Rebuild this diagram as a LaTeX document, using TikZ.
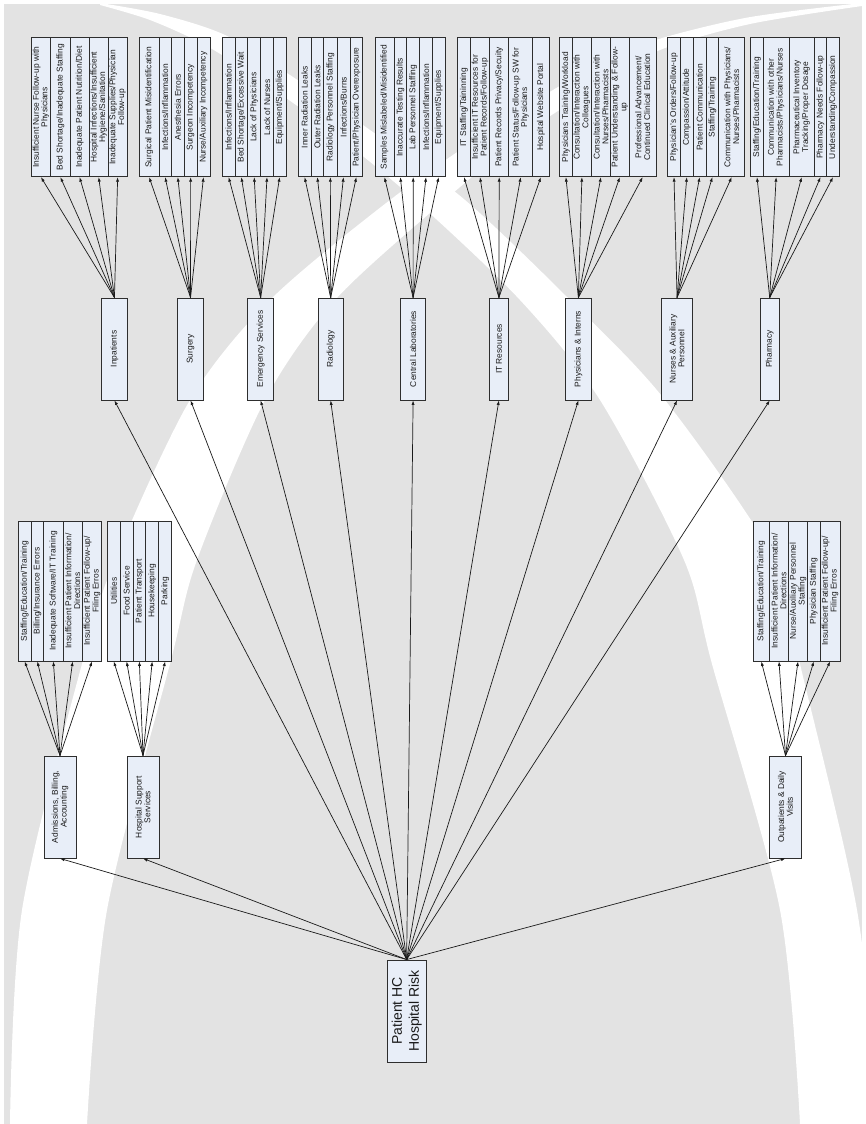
\documentclass[tikz,border=0pt]{standalone}
\usepackage{fontspec}
\setmainfont{Liberation Sans}
\usetikzlibrary{arrows.meta}
\definecolor{bggray}{HTML}{E3E3E3}
\definecolor{boxfill}{HTML}{E8EEF8}
\definecolor{boxline}{HTML}{2E2E2E}
\definecolor{linecol}{HTML}{1A1A1A}
\tikzset{
  bx/.style={draw=boxline, fill=boxfill, line width=0.9pt, rotate=90, inner sep=0pt,
    align=center, font=\fontsize{8.4}{8.7}\selectfont, text=black!90},
  rootbx/.style={bx, font=\fontsize{14}{17}\selectfont},
  arr/.style={draw=linecol, line width=0.7pt, -{Latex[length=4.5pt,width=3.2pt]}},
}
\newcommand\mkbox[7]{%
  \pgfmathsetmacro\mbw{#6-#5}%
  \pgfmathsetmacro\mbh{#4-#3}%
  \pgfmathsetmacro\mbx{(#3+#4)/2}%
  \pgfmathsetmacro\mby{(#5+#6)/2}%
  \node[#1, minimum width=\mbw pt, minimum height=\mbh pt] (#2) at (\mbx,\mby) {#7};}
\newcommand\topbox[4]{\mkbox{bx}{#1}{#2}{#3}{37.7}{176.7}{#4}}
\newcommand\midbox[4]{\mkbox{bx}{#1}{#2}{#3}{298}{400}{#4}}
\newcommand\lowbox[4]{\mkbox{bx}{#1}{#2}{#3}{521}{661}{#4}}
\newcommand\lpbox[4]{\mkbox{bx}{#1}{#2}{#3}{756}{858}{#4}}
\begin{document}
\begin{tikzpicture}[x=1pt,y=-1pt]
\useasboundingbox (0,0) rectangle (865,1124);
% background
\fill[bggray] (4,4) rectangle (862,1124);
\fill[white] plot[smooth] coordinates {(10,1124) (22,910) (83,660) (115,560) (190,400) (270,300) (390,200) (490,130) (570,80) (640,45) (745,18) (862,3)}
  -- plot[smooth] coordinates {(862,6) (750,24) (660,50) (600,85) (530,130) (445,200) (335,300) (265,400) (197,560) (171,660) (107,910) (87,1124)} -- cycle;
\fill[white] plot[smooth] coordinates {(100,3) (160,14) (225,35) (290,75) (370,130) (465,200) (570,300) (665,400) (775,560) (800,664) (857,910) (880,1124)}
  -- plot[smooth] coordinates {(800,1124) (780,910) (712,664) (684,560) (600,400) (520,300) (415,200) (330,130) (260,80) (205,45) (150,20) (100,5)} -- cycle;
\fill[white] (862,0) rectangle (865,1124);

% top row children
\topbox{a1}{31.2}{50.7}{Insufficient Nurse Follow-up with\\Physicians}
\topbox{a2}{50.7}{70}{Bed Shortage/Inadequate Staffing}
\topbox{a3}{70}{89.2}{Inadequate Patient Nutrition/Diet}
\topbox{a4}{89.2}{108.2}{Hospital Infections/Insufficient\\Hygiene/Sanitation}
\topbox{a5}{108.2}{127.1}{Inadequate Supplies/Physician\\Follow-up}

\topbox{b1}{139.3}{159}{Surgical Patient Misidentification}
\topbox{b2}{159}{171.3}{Infections/Inflammation}
\topbox{b3}{171.3}{184.3}{Anesthesia Errors}
\topbox{b4}{184.3}{197}{Surgeon Incompetency}
\topbox{b5}{197}{210}{Nurse/Auxiliary Incompetency}

\topbox{c1}{222.3}{235}{Infections/Inflammation}
\topbox{c2}{235}{247.7}{Bed Shortage/Excessive Wait}
\topbox{c3}{247.7}{260.7}{Lack of Physicians}
\topbox{c4}{260.7}{273.3}{Lack of Nurses}
\topbox{c5}{273.3}{286}{Equipment/Supplies}

\topbox{d1}{298.3}{311}{Inner Radiation Leaks}
\topbox{d2}{311}{323.7}{Outer Radiation Leaks}
\topbox{d3}{323.7}{337}{Radiology Personnel Staffing}
\topbox{d4}{337}{350}{Infections/Burns}
\topbox{d5}{350}{362.7}{Patient/Physician Overexposure}

\topbox{e1}{375}{394}{Samples Mislabeled/Misidentified}
\topbox{e2}{394}{406.7}{Inaccurate Testing Results}
\topbox{e3}{406.7}{419.7}{Lab Personnel Staffing}
\topbox{e4}{419.7}{432.3}{Infections/Inflammation}
\topbox{e5}{432.3}{445}{Equipment/Supplies}

\topbox{f1}{457.7}{470.3}{IT Staffing/Taininning}
\topbox{f2}{470.3}{489.7}{Insufficient IT Resources for\\Patient Records/Follow-up}
\topbox{f3}{489.7}{508.7}{Patient Records Privacy/Secuity}
\topbox{f4}{508.7}{532.7}{Patient Status/Follow-up SW for\\Physicians}
\topbox{f5}{532.7}{549}{Hospital Website Portal}

\topbox{g1}{559.5}{572.3}{Physicians Training/Workload}
\topbox{g2}{572.3}{591.5}{Consultation/Interaction with\\Colleagues}
\topbox{g3}{591.5}{610.3}{Consultation/Interaction with\\Nurses/Pharmacists}
\topbox{g4}{610.3}{629.3}{Patient Understanding \& Follow-\\up}
\topbox{g5}{629.3}{656}{Professional Advancement/\\Continued Clinical Education}

\topbox{h1}{667.7}{680.3}{Physician's Orders/Follow-up}
\topbox{h2}{680.3}{693.3}{Compassion/Attitude}
\topbox{h3}{693.3}{706}{Patient Communication}
\topbox{h4}{706}{718.7}{Staffing/Training}
\topbox{h5}{718.7}{744.7}{Communication with Physicians/\\Nurses/Pharmacists}

\topbox{k1}{750.7}{763.3}{Staffing/Education/Training}
\topbox{k2}{763.3}{789}{Communication with other\\Pharmacists/Physicians/Nurses}
\topbox{k3}{789}{814.3}{Pharmaceutical Inventory\\Tracking/Proper Dosage}
\topbox{k4}{814.3}{826.7}{Pharmacy Needs Follow-up}
\topbox{k5}{826.7}{839.3}{Understanding/Compassion}

% middle row
\midbox{inp}{101.5}{127.4}{Inpatients}
\midbox{surg}{177.6}{203.5}{Surgery}
\midbox{emer}{247.7}{273.6}{Emergency Services}
\midbox{radi}{318.3}{343}{Radiology}
\midbox{clab}{400.4}{425.8}{Central Laboratories}
\midbox{itres}{489.2}{508.6}{IT Resources}
\midbox{phys}{565.4}{591.3}{Physicians \& Interns}
\midbox{nurs}{661.3}{692.8}{Nurses \& Auxiliary\\Personnel}
\midbox{phar}{760}{779.4}{Pharmacy}

% lower children
\lowbox{m1}{18.3}{31}{Staffing/Education/Training}
\lowbox{m2}{31}{43.7}{Billing/Insurance Errors}
\lowbox{m3}{43.7}{63}{Inadequate Software/IT Training}
\lowbox{m4}{63}{82.3}{Insufficient Patient Information/\\Directions}
\lowbox{m5}{82.3}{101.7}{Insufficient Patient Follow-up/\\Filing Erros}

\lowbox{s1}{107.3}{120.3}{Utilities}
\lowbox{s2}{120.3}{133}{Food Service}
\lowbox{s3}{133}{145.7}{Patient Transport}
\lowbox{s4}{145.7}{158.7}{Housekeeping}
\lowbox{s5}{158.7}{171.7}{Parking}

\lowbox{o1}{753.3}{769.3}{Staffing/Education/Training}
\lowbox{o2}{769.3}{788.7}{Insufficient Patient Information/\\Directions}
\lowbox{o3}{788.7}{807.3}{Nurse/Auxiliary Personnel\\Staffing}
\lowbox{o4}{807.3}{820.3}{Physician Staffing}
\lowbox{o5}{820.3}{840}{Insufficient Patient Follow-up/\\Filing Erros}

% lower parents
\lpbox{adm}{44}{76}{Admissions, Billing,\\Accounting}
\lpbox{hss}{127}{159}{Hospital Support\\Services}
\lpbox{outp}{769.3}{801.7}{Outpatients \& Daily\\Visits}

% root
\mkbox{rootbx}{root}{387.3}{426}{960}{1062}{Patient HC\\Hospital Risk}

% connectors
\foreach \p/\c in {inp/a, surg/b, emer/c, radi/d, clab/e, itres/f, phys/g, nurs/h, phar/k, adm/m, hss/s, outp/o}{
  \foreach \i in {1,...,5}{\draw[arr] (\p.east) -- (\c\i.west);}
}
\foreach \p in {inp, surg, emer, radi, clab, itres, phys, nurs, phar, adm, hss, outp}{
  \draw[arr] (root.east) -- (\p.west);
}
\end{tikzpicture}
\end{document}
